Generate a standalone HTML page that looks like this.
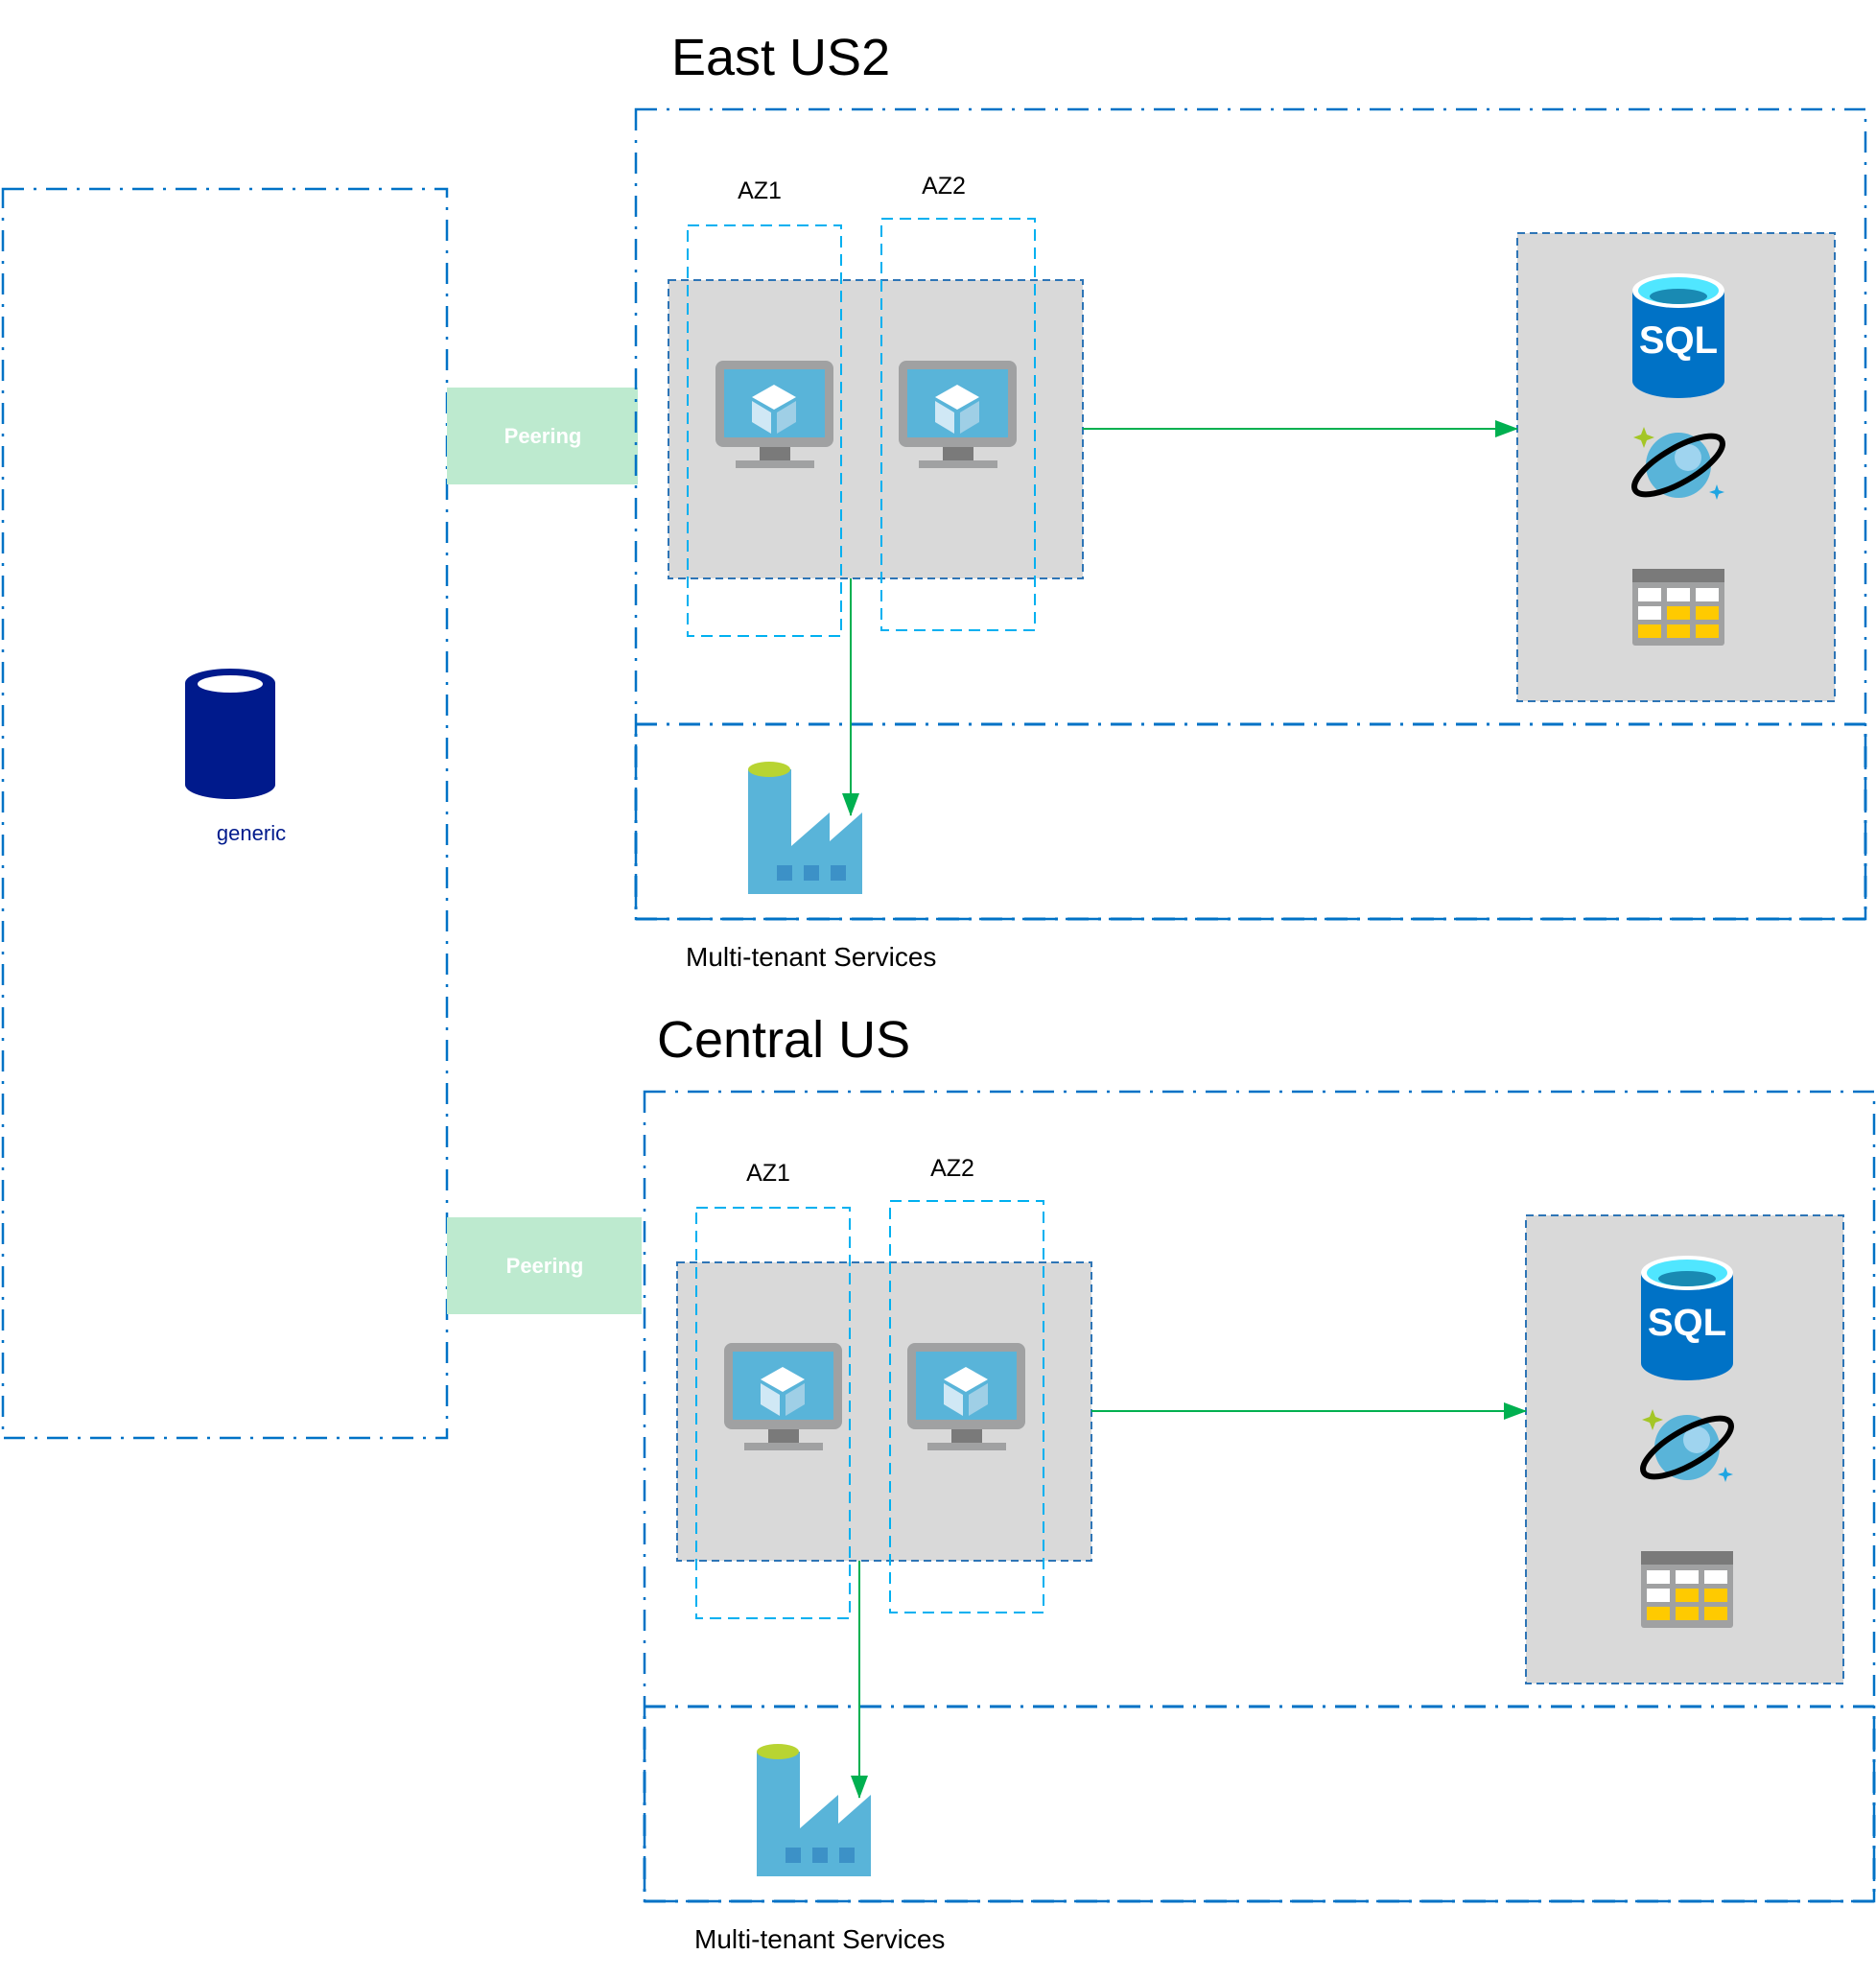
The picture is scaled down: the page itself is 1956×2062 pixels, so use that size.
<!DOCTYPE html>
<html><head><meta charset="utf-8"><style>
html,body{margin:0;padding:0;background:#fff}
svg{display:block}
text{font-family:"Liberation Sans","DejaVu Sans",sans-serif}
</style></head><body>
<svg width="1956" height="2062" viewBox="0 0 1956 2062" xmlns="http://www.w3.org/2000/svg">
<defs>
<marker id="ah" markerWidth="24" markerHeight="18" refX="23" refY="9" orient="auto" markerUnits="userSpaceOnUse">
<path d="M0,0 L24,9 L0,18 z" fill="#00b050"/>
</marker>
<g id="vm">
<rect x="0" y="0" width="123" height="90" rx="8" fill="#a0a1a2"/>
<rect x="9" y="9" width="105" height="71" fill="#59b4d9"/>
<polygon points="61,25 84,38 61,51 38,38" fill="#fff"/>
<polygon points="38,42 58,54 58,76 38,64" fill="#d0e8f5"/>
<polygon points="64,54 84,42 84,64 64,76" fill="#9fcfe6"/>
<rect x="46" y="90" width="32" height="14" fill="#7a7a7a"/>
<rect x="21" y="104" width="82" height="8" fill="#a0a1a2"/>
</g>
<g id="db">
<path d="M0,18 L0,112 A48,18 0 0 0 96,112 L96,18 z" fill="#0072c6"/>
<ellipse cx="48" cy="18" rx="48" ry="18" fill="#fff"/>
<ellipse cx="48" cy="18" rx="42" ry="14" fill="#50e6ff"/>
<ellipse cx="48" cy="24" rx="30" ry="8" fill="#198ab3"/>
<text x="48" y="83" font-size="40" font-weight="bold" fill="#fff" text-anchor="middle">SQL</text>
<g transform="translate(2,160)">
<circle cx="46" cy="40" r="34" fill="#59b4d9"/>
<circle cx="56" cy="32" r="14" fill="#9fd4ef"/>
<ellipse cx="46" cy="40" rx="52" ry="18" fill="none" stroke="#000" stroke-width="6" transform="rotate(-30 46 40)"/>
<path d="M10,0 l3,8 8,3 -8,3 -3,8 -3,-8 -8,-3 8,-3z" fill="#a4c626"/>
<path d="M86,60 l2,6 6,2 -6,2 -2,6 -2,-6 -6,-2 6,-2z" fill="#1ea5e2"/>
</g>
<g transform="translate(0,308)">
<rect x="0" y="0" width="96" height="80" rx="3" fill="#a0a1a2"/>
<rect x="0" y="0" width="96" height="14" fill="#7a7a7a"/>
<rect x="6" y="20" width="24" height="14" fill="#fff"/><rect x="36" y="20" width="24" height="14" fill="#fff"/><rect x="66" y="20" width="24" height="14" fill="#fff"/>
<rect x="6" y="39" width="24" height="14" fill="#fff"/><rect x="36" y="39" width="24" height="14" fill="#ffca00"/><rect x="66" y="39" width="24" height="14" fill="#ffca00"/>
<rect x="6" y="58" width="24" height="14" fill="#ffca00"/><rect x="36" y="58" width="24" height="14" fill="#ffca00"/><rect x="66" y="58" width="24" height="14" fill="#ffca00"/>
</g>
</g>
<g id="fac">
<rect x="0" y="8" width="45" height="130" fill="#59b4d9"/>
<ellipse cx="22" cy="8" rx="22" ry="8" fill="#b8d432"/>
<polygon points="45,88 85,53 85,83 119,53 119,138 45,138" fill="#59b4d9"/>
<rect x="30" y="108" width="16" height="16" fill="#3c91c7"/><rect x="58" y="108" width="16" height="16" fill="#3c91c7"/><rect x="86" y="108" width="16" height="16" fill="#3c91c7"/>
</g>
<g id="region">
<rect x="663" y="114" width="1282" height="844" fill="none" stroke="#0072c6" stroke-width="2.5" stroke-dasharray="22,10,3,10"/>
<rect x="663" y="755" width="1282" height="203" fill="none" stroke="#0072c6" stroke-width="3" stroke-dasharray="22,10,3,10"/>
<rect x="697" y="292" width="432" height="311" fill="#d9d9d9" stroke="#2e75b6" stroke-width="2" stroke-dasharray="8,5"/>
<rect x="717" y="235" width="160" height="428" fill="none" stroke="#00b0f0" stroke-width="2" stroke-dasharray="12,7"/>
<rect x="919" y="228" width="160" height="429" fill="none" stroke="#00b0f0" stroke-width="2" stroke-dasharray="12,7"/>
<text x="792" y="207" font-size="25" text-anchor="middle" fill="#000">AZ1</text>
<text x="984" y="202" font-size="25" text-anchor="middle" fill="#000">AZ2</text>
<use href="#vm" x="746" y="376"/>
<use href="#vm" x="937" y="376"/>
<rect x="1582" y="243" width="331" height="488" fill="#d9d9d9" stroke="#2e75b6" stroke-width="2" stroke-dasharray="8,5"/>
<use href="#db" x="1702" y="285"/>
<line x1="1129" y1="447" x2="1582" y2="447" stroke="#00b050" stroke-width="2" marker-end="url(#ah)"/>
<line x1="887" y1="603" x2="887" y2="850" stroke="#00b050" stroke-width="2" marker-end="url(#ah)"/>
<use href="#fac" x="780" y="794"/>
<text x="715" y="1007" font-size="28" fill="#000">Multi-tenant Services</text>
</g>
</defs>

<rect x="3" y="197" width="463" height="1302" fill="none" stroke="#0072c6" stroke-width="2.5" stroke-dasharray="22,10,3,10"/>
<path d="M193,712 L193,818 A47,15 0 0 0 287,818 L287,712 z" fill="#001a8c"/>
<ellipse cx="240" cy="712" rx="47" ry="15" fill="#001a8c"/>
<ellipse cx="240" cy="713" rx="34" ry="9" fill="#fff"/>
<text x="262" y="876" font-size="22" fill="#001a8c" text-anchor="middle">generic</text>

<rect x="466" y="404" width="199" height="101" fill="#bdeacf"/>
<text x="566" y="462" font-size="22" font-weight="bold" fill="#fff" text-anchor="middle">Peering</text>
<rect x="466" y="1269" width="203" height="101" fill="#bdeacf"/>
<text x="568" y="1327" font-size="22" font-weight="bold" fill="#fff" text-anchor="middle">Peering</text>

<text x="700" y="78" font-size="54" fill="#000">East US2</text>
<use href="#region"/>

<text x="685" y="1102" font-size="54" fill="#000">Central US</text>
<use href="#region" transform="translate(9,1024)"/>
</svg>
</body></html>
